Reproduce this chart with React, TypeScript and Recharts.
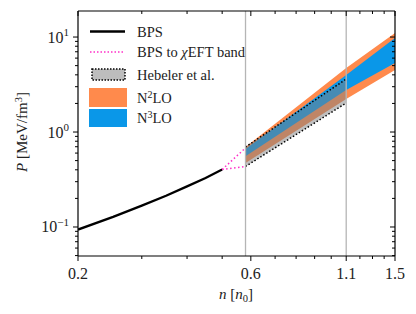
import {
  ComposedChart,
  Area,
  Line,
  XAxis,
  YAxis,
  ReferenceLine,
} from 'recharts';

// BPS crust EOS
const bpsN = [0.2, 0.25, 0.3, 0.35, 0.4, 0.45, 0.5];
const bpsP = [0.094, 0.128, 0.168, 0.213, 0.268, 0.328, 0.403];

// matching segment BPS -> chiral EFT band
const linkN = [0.5, 0.58];
const linkUp = [0.403, 0.68];
const linkLo = [0.403, 0.434];

// chiral EFT bands
const bandN = [0.58, 1.1, 1.5];
const n2Lo = [0.472, 2.22, 4.49];
const n2Hi = [0.695, 4.72, 11.0];
const n3Lo = [0.555, 2.77, 5.33];
const n3Hi = [0.662, 3.98, 9.76];

// Hebeler et al.
const hebN = [0.58, 1.1];
const hebLo = [0.434, 2.02];
const hebHi = [0.695, 3.61];

const xTicks = [0.2, 0.3, 0.4, 0.5, 0.6, 0.7, 0.8, 0.9, 1.0, 1.1, 1.2, 1.3, 1.4, 1.5];
const xMajor = [0.2, 0.6, 1.1, 1.5];
const yTicks = [
  0.05, 0.06, 0.07, 0.08, 0.09, 0.1,
  0.2, 0.3, 0.4, 0.5, 0.6, 0.7, 0.8, 0.9, 1,
  2, 3, 4, 5, 6, 7, 8, 9, 10,
];
const yMajor = [0.1, 1, 10];
const yExp: Record<string, string> = { '0.1': '−1', '1': '0', '10': '1' };

const vLines = [0.58, 1.1];

const FONT = '"Liberation Serif", "DejaVu Serif", serif';
const ORANGE = '#ff8a4c';
const BLUE = '#0a97e8';
const PINK = '#ff2fc8';

// merge everything into one table keyed by n
const allN = Array.from(new Set([...bpsN, ...linkN, ...bandN, ...hebN])).sort((a, b) => a - b);
const data = allN.map(n => {
  const row: any = { n };
  const i = bpsN.indexOf(n);
  if (i >= 0) row.bps = bpsP[i];
  const l = linkN.indexOf(n);
  if (l >= 0) { row.linkUp = linkUp[l]; row.linkLo = linkLo[l]; }
  const b = bandN.indexOf(n);
  if (b >= 0) { row.n2 = [n2Lo[b], n2Hi[b]]; row.n3 = [n3Lo[b], n3Hi[b]]; }
  const h = hebN.indexOf(n);
  if (h >= 0) { row.heb = [hebLo[h], hebHi[h]]; row.hebLo = hebLo[h]; row.hebHi = hebHi[h]; }
  return row;
});

const isMaj = (arr: number[], v: number) => arr.some(m => Math.abs(m - v) < 1e-9);

const BottomTick = (props: any) => {
  const { x, y, payload } = props;
  const maj = isMaj(xMajor, payload.value);
  return (
    <g>
      <line x1={x} x2={x} y1={y} y2={y + (maj ? 5 : 3)} stroke="#000" strokeWidth={1} />
      {maj && (
        <text x={x} y={y + 22.5} textAnchor="middle" fontSize={16} fontFamily={FONT} fill="#222">
          {payload.value.toFixed(1)}
        </text>
      )}
    </g>
  );
};

const TopTick = (props: any) => {
  const { x, y, payload } = props;
  const maj = isMaj(xMajor, payload.value);
  return <line x1={x} x2={x} y1={y} y2={y + (maj ? 5 : 3)} stroke="#000" strokeWidth={1} />;
};

const LeftTick = (props: any) => {
  const { x, y, payload } = props;
  const maj = isMaj(yMajor, payload.value);
  return (
    <g>
      <line x1={x - (maj ? 5 : 3)} x2={x} y1={y} y2={y} stroke="#000" strokeWidth={1} />
      {maj && (
        <text x={x - 9} y={y + 5.5} textAnchor="end" fontSize={16} fontFamily={FONT} fill="#222">
          10
          <tspan dy={-6.5} fontSize={11}>{yExp[String(payload.value)]}</tspan>
        </text>
      )}
    </g>
  );
};

const RightTick = (props: any) => {
  const { x, y, payload } = props;
  const maj = isMaj(yMajor, payload.value);
  return <line x1={x - (maj ? 5 : 3)} x2={x} y1={y} y2={y} stroke="#000" strokeWidth={1} />;
};

const ChartLegend = () => (
  <svg width={320} height={140} style={{ position: 'absolute', left: 0, top: 0 }}>
    <g fontFamily={FONT} fontSize={14.5} fill="#222">
      <line x1={90} x2={125} y1={31.5} y2={31.5} stroke="#000" strokeWidth={2.5} />
      <text x={137} y={37}>BPS</text>
      <line x1={90} x2={125} y1={52} y2={52} stroke={PINK} strokeWidth={1.5} strokeDasharray="1.5 2" />
      <text x={137} y={57}>
        BPS to <tspan fontStyle="italic">χ</tspan>EFT band
      </text>
      <rect x={92} y={69} width={33} height={11} fill="#bdbdbd" stroke="#000" strokeWidth={1.5} strokeDasharray="1.5 1.5" />
      <text x={137} y={79.5}>Hebeler et al.</text>
      <rect x={89} y={88} width={38} height={19} fill={ORANGE} />
      <text x={137} y={103}>
        N<tspan dy={-5.5} fontSize={10}>2</tspan><tspan dy={5.5}>LO</tspan>
      </text>
      <rect x={89} y={109} width={38} height={18} fill={BLUE} />
      <text x={137} y={123}>
        N<tspan dy={-5.5} fontSize={10}>3</tspan><tspan dy={5.5}>LO</tspan>
      </text>
    </g>
  </svg>
);

const App = () => {
  const axisLine = { stroke: '#000', strokeWidth: 1.2 };
  return (
    <div style={{ position: 'absolute', left: 0, top: 0, width: 416, height: 314, background: '#fff' }}>
      <ComposedChart width={416} height={314} data={data} margin={{ top: 10, right: 20, bottom: 0, left: 8 }}>
        <XAxis
          dataKey="n"
          type="number"
          scale="log"
          domain={[0.2, 1.5]}
          allowDataOverflow
          ticks={xTicks}
          interval={0}
          tickSize={0}
          tickMargin={0}
          tickLine={false}
          axisLine={axisLine}
          tick={<BottomTick />}
          height={58}
          label={{
            position: 'insideBottom',
            content: () => (
              <text x={236} y={299} textAnchor="middle" fontSize={15} fontFamily={FONT} fill="#222">
                <tspan fontStyle="italic">n</tspan> [<tspan fontStyle="italic">n</tspan>
                <tspan dy={3} fontSize={10.5}>0</tspan>
                <tspan dy={-3}>]</tspan>
              </text>
            ),
          }}
        />
        <XAxis
          xAxisId="top"
          dataKey="n"
          orientation="top"
          type="number"
          scale="log"
          domain={[0.2, 1.5]}
          allowDataOverflow
          ticks={xTicks}
          interval={0}
          tickSize={0}
          tickMargin={0}
          tickLine={false}
          axisLine={axisLine}
          tick={<TopTick />}
          height={1}
        />
        <YAxis
          type="number"
          scale="log"
          domain={[0.0495, 18.8]}
          allowDataOverflow
          ticks={yTicks}
          interval={0}
          tickSize={0}
          tickMargin={0}
          tickLine={false}
          axisLine={axisLine}
          tick={<LeftTick />}
          width={70}
          label={{
            position: 'insideLeft',
            content: () => (
              <text
                x={27}
                y={132}
                transform="rotate(-90 27 132)"
                textAnchor="middle"
                fontSize={15}
                fontFamily={FONT}
                fill="#222"
              >
                <tspan fontStyle="italic">P</tspan> [MeV/fm
                <tspan dy={-5.5} fontSize={10.5}>3</tspan>
                <tspan dy={5.5}>]</tspan>
              </text>
            ),
          }}
        />
        <YAxis
          yAxisId="right"
          orientation="right"
          type="number"
          scale="log"
          domain={[0.0495, 18.8]}
          allowDataOverflow
          ticks={yTicks}
          interval={0}
          tickSize={0}
          tickMargin={0}
          tickLine={false}
          axisLine={axisLine}
          tick={<RightTick />}
          width={1}
        />

        <Area dataKey="n2" type="linear" fill={ORANGE} fillOpacity={1} stroke="none" isAnimationActive={false} />
        <Area dataKey="n3" type="linear" fill={BLUE} fillOpacity={1} stroke="none" isAnimationActive={false} />
        <Area dataKey="heb" type="linear" fill="#808080" fillOpacity={0.5} stroke="none" isAnimationActive={false} />
        <Line dataKey="hebHi" type="linear" stroke="#000" strokeWidth={1.5} strokeDasharray="1.5 2" dot={false} isAnimationActive={false} />
        <Line dataKey="hebLo" type="linear" stroke="#000" strokeWidth={1.5} strokeDasharray="1.5 2" dot={false} isAnimationActive={false} />

        {vLines.map(v => (
          <ReferenceLine key={v} x={v} stroke="#b5b5b5" strokeWidth={1.3} />
        ))}

        <Line dataKey="bps" type="linear" stroke="#000" strokeWidth={2.3} dot={false} isAnimationActive={false} />
        <Line dataKey="linkUp" type="linear" stroke={PINK} strokeWidth={1.5} strokeDasharray="1.5 2.5" dot={false} isAnimationActive={false} />
        <Line dataKey="linkLo" type="linear" stroke={PINK} strokeWidth={1.5} strokeDasharray="1.5 2.5" dot={false} isAnimationActive={false} />
      </ComposedChart>
      <ChartLegend />
    </div>
  );
};

export default App;
